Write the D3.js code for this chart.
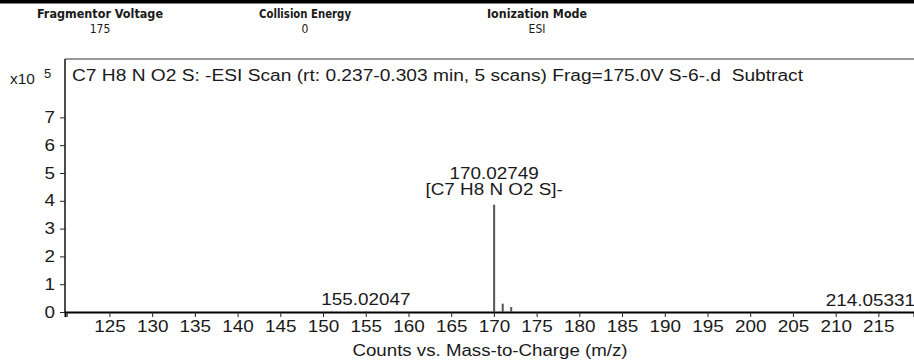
<!DOCTYPE html>
<html>
<head>
<meta charset="utf-8">
<script src="https://cdn.jsdelivr.net/npm/d3@7"></script>
<style>
  html, body { margin: 0; padding: 0; background: #fff; }
  svg { display: block; }
  text { fill: #1a1a1a; }
</style>
</head>
<body>
<svg id="chart" width="914" height="362"></svg>
<script>
// Acquisition parameters shown in the header row
const paramNames = ["Fragmentor Voltage", "Collision Energy", "Ionization Mode"];
const paramValues = ["175", "0", "ESI"];

// Centroid peaks: m/z and abundance (counts)
const peakMz = [151.0, 155.02047, 170.02749, 171.0305, 172.0233, 214.05331];
const peakCounts = [1500, 2000, 386000, 30000, 18000, 1500];

// Annotations attached to peaks
const labelMz = [155.02047, 170.02749, 214.05331];
const labelText = ["155.02047", "170.02749", "214.05331"];
const labelFormula = ["", "[C7 H8 N O2 S]-", ""];

// Axis ticks
const xTicks = [120, 125, 130, 135, 140, 145, 150, 155, 160, 165, 170, 175, 180, 185, 190, 195, 200, 205, 210, 215];
const xTickLabels = ["", "125", "130", "135", "140", "145", "150", "155", "160", "165", "170", "175", "180", "185", "190", "195", "200", "205", "210", "215"];
const yTicks = [0, 1, 2, 3, 4, 5, 6, 7];

const titleText = "C7 H8 N O2 S: -ESI Scan (rt: 0.237-0.303 min, 5 scans) Frag=175.0V S-6-.d  Subtract";
const xAxisTitle = "Counts vs. Mass-to-Charge (m/z)";

const svg = d3.select("#chart");
const font = "'Liberation Sans', Arial, sans-serif";
const headFont = "'DejaVu Sans Condensed', 'DejaVu Sans', sans-serif";
const stretch = 1.18; // plot text is drawn slightly wide

// Widen text glyphs horizontally by a factor, keeping the anchor in place
function widen(sel, k) {
  sel.each(function () {
    const w = this.getComputedTextLength();
    this.setAttribute("textLength", w * k);
    this.setAttribute("lengthAdjust", "spacingAndGlyphs");
  });
}

const plot = { left: 65, top: 59, right: 914, bottom: 312 };

const x = d3.scaleLinear().domain([119.8, 219.17]).range([plot.left, plot.right]);
const y = d3.scaleLinear().domain([0, 9.1]).range([plot.bottom, plot.top]);

// Header band
svg.append("rect").attr("x", 0).attr("y", 0).attr("width", 914).attr("height", 3.5).attr("fill", "#000");

const headerX = [100, 305, 537];
const headerW = [126, 92, 100];
const header = svg.append("g");
paramNames.forEach((name, i) => {
  header.append("text")
    .attr("x", headerX[i]).attr("y", 18)
    .attr("text-anchor", "middle")
    .attr("font-family", headFont)
    .attr("font-weight", "bold")
    .attr("font-size", 12)
    .attr("textLength", headerW[i])
    .attr("lengthAdjust", "spacingAndGlyphs")
    .text(name);
  header.append("text")
    .attr("x", headerX[i]).attr("y", 33)
    .attr("text-anchor", "middle")
    .attr("font-family", headFont)
    .attr("font-size", 12)
    .text(paramValues[i]);
});

// Plot frame (top and left edges)
svg.append("line")
  .attr("x1", plot.left).attr("x2", plot.right)
  .attr("y1", plot.top).attr("y2", plot.top)
  .attr("stroke", "#777").attr("stroke-width", 1.5);
svg.append("line")
  .attr("x1", plot.left).attr("x2", plot.left)
  .attr("y1", plot.top).attr("y2", plot.bottom)
  .attr("stroke", "#111").attr("stroke-width", 1.5);

// Y axis
const yAxis = d3.axisLeft(y).tickValues(yTicks).tickSize(5).tickPadding(5).tickFormat(d3.format("d"));
const gy = svg.append("g").attr("transform", `translate(${plot.left},0)`).call(yAxis);
gy.select(".domain").remove();
gy.selectAll("line").attr("stroke", "#222");
gy.selectAll("text").attr("font-family", font).attr("font-size", 16).attr("fill", "#1a1a1a").call(widen, stretch);

// X axis
const xAxis = d3.axisBottom(x).tickValues(xTicks).tickSize(5).tickPadding(4)
  .tickFormat((d, i) => xTickLabels[i]);
const gx = svg.append("g").attr("transform", `translate(0,${plot.bottom})`).call(xAxis);
gx.select(".domain").attr("stroke", "#000").attr("stroke-width", 2);
gx.selectAll("line").attr("stroke", "#222");
gx.selectAll("text").attr("font-family", font).attr("font-size", 16).attr("fill", "#1a1a1a")
  .filter(function () { return this.textContent !== ""; }).call(widen, stretch);

// Exponent marker
svg.append("text").attr("x", 10).attr("y", 84)
  .attr("font-family", font).attr("font-size", 14).text("x10").call(widen, 1.1);
svg.append("text").attr("x", 44).attr("y", 78)
  .attr("font-family", font).attr("font-size", 13).text("5");

// Scan title (keeps the double space before "Subtract")
svg.append("text").attr("x", 72).attr("y", 81)
  .attr("font-family", font).attr("font-size", 16)
  .style("white-space", "pre")
  .attr("textLength", 731).attr("lengthAdjust", "spacingAndGlyphs")
  .text(titleText);

// Peaks as sticks
svg.append("g").selectAll("line")
  .data(peakMz.map((m, i) => ({ m, c: peakCounts[i] })))
  .join("line")
  .attr("x1", d => x(d.m)).attr("x2", d => x(d.m))
  .attr("y1", y(0)).attr("y2", d => y(d.c / 1e5))
  .attr("stroke", "#555").attr("stroke-width", 2);

// Peak annotations
const countAt = m => peakCounts[peakMz.indexOf(m)];
const ann = svg.append("g").attr("font-family", font).attr("font-size", 16).attr("text-anchor", "middle");
labelMz.forEach((m, i) => {
  const top = y(countAt(m) / 1e5);
  if (labelFormula[i]) {
    ann.append("text").attr("x", x(m)).attr("y", top - 10).text(labelFormula[i]).call(widen, stretch);
    ann.append("text").attr("x", x(m)).attr("y", top - 26).text(labelText[i]).call(widen, stretch);
  } else {
    ann.append("text").attr("x", x(m)).attr("y", top - 6).text(labelText[i]).call(widen, stretch);
  }
});

// X axis title
svg.append("text").attr("x", 490).attr("y", 356)
  .attr("text-anchor", "middle")
  .attr("font-family", font).attr("font-size", 16)
  .attr("textLength", 275).attr("lengthAdjust", "spacingAndGlyphs")
  .text(xAxisTitle);
</script>
</body>
</html>
